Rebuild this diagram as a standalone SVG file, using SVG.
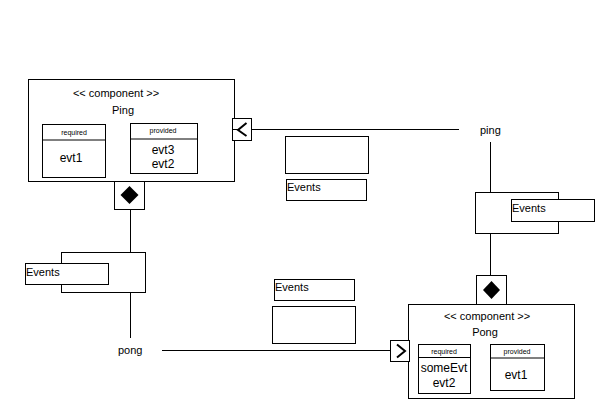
<svg xmlns="http://www.w3.org/2000/svg" width="596" height="400" viewBox="0 0 596 400">
<style>
.b{fill:#fff;stroke:#000;stroke-width:1}
.l{fill:none;stroke:#000;stroke-width:1}
.t{font-family:"Liberation Sans",Arial,sans-serif;font-size:11px;fill:#000}
.c{font-family:"Liberation Sans",Arial,sans-serif;font-size:12px;fill:#000;text-anchor:middle}
.s{font-family:"Liberation Sans",Arial,sans-serif;font-size:7px;fill:#000;text-anchor:middle}
.m{text-anchor:middle}
.d{fill:#000;stroke:none}
.v{fill:none;stroke:#000;stroke-width:2}
</style>
<rect width="596" height="400" fill="#fff"/>
<g id="connectors">
<line class="l" x1="251.5" y1="129.5" x2="459" y2="129.5"/>
<line class="l" x1="490.5" y1="142" x2="490.5" y2="195"/>
<line class="l" x1="490.5" y1="233" x2="490.5" y2="304"/>
<line class="l" x1="130.5" y1="181" x2="130.5" y2="252"/>
<line class="l" x1="130.5" y1="292" x2="130.5" y2="338"/>
<line class="l" x1="162" y1="350.5" x2="390" y2="350.5"/>
</g>
<g id="ping">
<rect class="b" x="28.5" y="79.5" width="206" height="102"/>
<text class="t m" x="116" y="97">&lt;&lt; component &gt;&gt;</text>
<text class="t m" x="123" y="114">Ping</text>
<g id="ping-required">
<rect class="b" x="42.5" y="124.5" width="63" height="53"/>
<line class="l" x1="42.5" y1="140" x2="105.5" y2="140" stroke-width="2"/>
<text class="s" x="74" y="135">required</text>
<text class="c" x="71" y="162">evt1</text>
</g>
<g id="ping-provided">
<rect class="b" x="130.5" y="123.5" width="67" height="50"/>
<line class="l" x1="130.5" y1="139" x2="197.5" y2="139" stroke-width="2"/>
<text class="s" x="163" y="133">provided</text>
<text class="c" x="163" y="154">evt3</text>
<text class="c" x="163" y="168">evt2</text>
</g>
</g>
<g id="ping-port">
<rect class="b" x="232.5" y="118.5" width="19" height="22"/>
<line class="l" x1="232.5" y1="129.5" x2="238" y2="129.5"/>
<polyline class="v" points="246.5,123 238,130 246.5,136"/>
</g>
<g id="ping-diamond">
<rect class="b" x="114.5" y="181.5" width="30" height="28"/>
<polygon class="d" points="129.5,186 138.5,195 129.5,204 120.5,195"/>
</g>
<g id="label-ping">
<text class="t" x="480" y="134">ping</text>
</g>
<g id="label-pong">
<text class="t" x="118" y="354">pong</text>
</g>
<g id="events-left">
<rect class="b" x="61.5" y="252.5" width="84" height="40"/>
<rect class="b" x="25.5" y="263.5" width="83" height="21"/>
<text class="t" x="26" y="276">Events</text>
</g>
<g id="events-right">
<rect class="b" x="475.5" y="192.5" width="83" height="41"/>
<rect class="b" x="511.5" y="199.5" width="83" height="22"/>
<text class="t" x="512" y="212">Events</text>
</g>
<g id="events-mid-top">
<rect class="b" x="285.5" y="136.5" width="83" height="37"/>
<rect class="b" x="286.5" y="179.5" width="80" height="21"/>
<text class="t" x="287" y="191">Events</text>
</g>
<g id="events-mid-bottom">
<rect class="b" x="274.5" y="279.5" width="80" height="21"/>
<text class="t" x="275" y="291">Events</text>
<rect class="b" x="272.5" y="306.5" width="83" height="37"/>
</g>
<g id="pong">
<rect class="b" x="408.5" y="304.5" width="166" height="94"/>
<text class="t m" x="487" y="320">&lt;&lt; component &gt;&gt;</text>
<text class="t m" x="485" y="336">Pong</text>
<g id="pong-required">
<rect class="b" x="418.5" y="344.5" width="52" height="49"/>
<line class="l" x1="418.5" y1="357.5" x2="470.5" y2="357.5"/>
<text class="s" x="444" y="354">required</text>
<text class="c" x="444" y="372">someEvt</text>
<text class="c" x="444" y="387">evt2</text>
</g>
<g id="pong-provided">
<rect class="b" x="490.5" y="344.5" width="54" height="46"/>
<line class="l" x1="490.5" y1="358" x2="544.5" y2="358" stroke-width="2"/>
<text class="s" x="517" y="354">provided</text>
<text class="c" x="516" y="379">evt1</text>
</g>
</g>
<g id="pong-port">
<rect class="b" x="390.5" y="340.5" width="19" height="21"/>
<polyline class="v" points="397,344.5 405,351 397,357.5"/>
</g>
<g id="pong-diamond">
<rect class="b" x="476.5" y="275.5" width="30" height="29"/>
<polygon class="d" points="491.5,281 500,290 491.5,299 483,290"/>
</g>
</svg>
